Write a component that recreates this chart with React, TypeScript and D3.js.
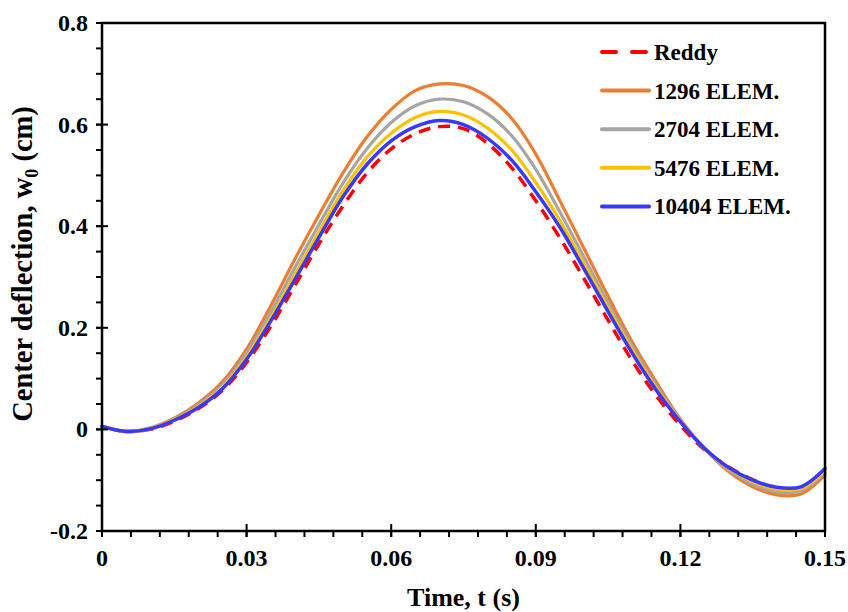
import React from "react";
import * as d3 from "d3";

const times = [0, 0.005, 0.01, 0.015, 0.02, 0.025, 0.03, 0.035, 0.04, 0.045, 0.05, 0.055, 0.06, 0.065, 0.07, 0.075, 0.08, 0.085, 0.09, 0.095, 0.1, 0.105, 0.11, 0.115, 0.12, 0.125, 0.13, 0.135, 0.14, 0.145, 0.15];

const reddy = [0.006, -0.004, 0.0, 0.016, 0.041, 0.077, 0.132, 0.203, 0.283, 0.365, 0.44, 0.505, 0.552, 0.582, 0.596, 0.592, 0.563, 0.515, 0.45, 0.377, 0.297, 0.215, 0.135, 0.066, 0.008, -0.04, -0.074, -0.099, -0.116, -0.118, -0.085];
const elem1296 = [0.006, -0.004, 0.003, 0.022, 0.052, 0.094, 0.158, 0.243, 0.335, 0.422, 0.505, 0.576, 0.63, 0.667, 0.68, 0.677, 0.655, 0.612, 0.542, 0.45, 0.356, 0.262, 0.172, 0.093, 0.02, -0.038, -0.083, -0.113, -0.129, -0.127, -0.09];
const elem2704 = [0.006, -0.004, 0.002, 0.02, 0.048, 0.088, 0.15, 0.23, 0.318, 0.403, 0.485, 0.553, 0.604, 0.637, 0.65, 0.645, 0.621, 0.578, 0.512, 0.428, 0.339, 0.249, 0.163, 0.086, 0.018, -0.038, -0.08, -0.108, -0.123, -0.121, -0.085];
const elem5476 = [0.006, -0.004, 0.001, 0.019, 0.045, 0.083, 0.143, 0.22, 0.305, 0.389, 0.47, 0.536, 0.583, 0.614, 0.626, 0.619, 0.593, 0.55, 0.486, 0.411, 0.326, 0.24, 0.156, 0.081, 0.016, -0.037, -0.077, -0.103, -0.118, -0.117, -0.081];
const elem10404 = [0.006, -0.004, 0.001, 0.018, 0.043, 0.08, 0.138, 0.213, 0.295, 0.378, 0.458, 0.522, 0.568, 0.596, 0.608, 0.6, 0.573, 0.53, 0.468, 0.398, 0.316, 0.232, 0.15, 0.077, 0.015, -0.037, -0.075, -0.1, -0.114, -0.113, -0.077];

const seriesNames = ["Reddy", "1296 ELEM.", "2704 ELEM.", "5476 ELEM.", "10404 ELEM."];
const xTicks = [0, 0.03, 0.06, 0.09, 0.12, 0.15];
const xTickLabels = ["0", "0.03", "0.06", "0.09", "0.12", "0.15"];
const yTicks = [-0.2, 0, 0.2, 0.4, 0.6, 0.8];
const yTickLabels = ["-0.2", "0", "0.2", "0.4", "0.6", "0.8"];

const W = 848, H = 612;
const L = 102, R = 825, T = 23, B = 531;
const FONT = "'Liberation Serif', 'Times New Roman', serif";

export default function App() {
  const x = d3.scaleLinear().domain([0, 0.15]).range([L, R]);
  const y = d3.scaleLinear().domain([-0.2, 0.8]).range([B, T]);
  const line = d3.line<number>().x((_, i) => x(times[i])).y((d) => y(d)).curve(d3.curveCatmullRom.alpha(0.5));

  const series = [
    { name: seriesNames[0], data: reddy, color: "#FF0000", width: 3.5, dash: "12,8" },
    { name: seriesNames[1], data: elem1296, color: "#ED7D31", width: 3.2, dash: null },
    { name: seriesNames[2], data: elem2704, color: "#A5A5A5", width: 3.2, dash: null },
    { name: seriesNames[3], data: elem5476, color: "#FFC000", width: 3.2, dash: null },
    { name: seriesNames[4], data: elem10404, color: "#3838FF", width: 3.5, dash: null },
  ];

  const xMinor = d3.range(0, 0.1500001, 0.006).map((v) => +v.toFixed(4));
  const yMinor = d3.range(-0.2, 0.80001, 0.05).map((v) => +v.toFixed(3));

  return (
    <svg width={W} height={H} style={{ position: "absolute", left: 0, top: 0, background: "#fff" }} fontFamily={FONT}>
      <rect x={0} y={0} width={W} height={H} fill="#fff" />
      {series.map((s) => (
        <path key={s.name} d={line(s.data) || ""} fill="none" stroke={s.color} strokeWidth={s.width}
          strokeDasharray={s.dash || undefined} strokeLinejoin="round" strokeLinecap={s.dash ? "butt" : "round"} />
      ))}
      <rect x={L} y={T} width={R - L} height={B - T} fill="none" stroke="#000" strokeWidth={2.5} />
      {yMinor.map((v) => (
        <line key={"ym" + v} x1={L - 6} x2={L} y1={y(v)} y2={y(v)} stroke="#000" strokeWidth={2} />
      ))}
      {yTicks.map((v) => (
        <line key={"yM" + v} x1={L - 6} x2={L + 6} y1={y(v)} y2={y(v)} stroke="#000" strokeWidth={2} />
      ))}
      {xMinor.map((v) => (
        <line key={"xm" + v} x1={x(v)} x2={x(v)} y1={B} y2={B + 6} stroke="#000" strokeWidth={2} />
      ))}
      {xTicks.map((v) => (
        <line key={"xM" + v} x1={x(v)} x2={x(v)} y1={B - 7} y2={B + 6} stroke="#000" strokeWidth={2} />
      ))}
      {yTicks.map((v, i) => (
        <text key={"yl" + v} x={88} y={y(v) + 8} textAnchor="end" fontSize={24} fontWeight="bold">{yTickLabels[i]}</text>
      ))}
      {xTicks.map((v, i) => (
        <text key={"xl" + v} x={x(v)} y={566} textAnchor="middle" fontSize={24} fontWeight="bold">{xTickLabels[i]}</text>
      ))}
      <text x={(L + R) / 2} y={606} textAnchor="middle" fontSize={26} fontWeight="bold">Time, t (s)</text>
      <text transform={`translate(32, ${264}) rotate(-90)`} textAnchor="middle" fontSize={28.5} fontWeight="bold">
        Center deflection, w<tspan fontSize={18} dy={6}>0</tspan><tspan dy={-6}> (cm)</tspan>
      </text>
      {series.map((s, i) => {
        const ly = 52 + i * 38.6;
        return (
          <g key={"lg" + s.name}>
            <line x1={602} x2={649} y1={ly} y2={ly} stroke={s.color} strokeWidth={4}
              strokeDasharray={s.dash ? "14,16" : undefined} strokeLinecap="round" />
            <text x={654} y={ly + 8} fontSize={23} fontWeight="bold">{s.name}</text>
          </g>
        );
      })}
    </svg>
  );
}
